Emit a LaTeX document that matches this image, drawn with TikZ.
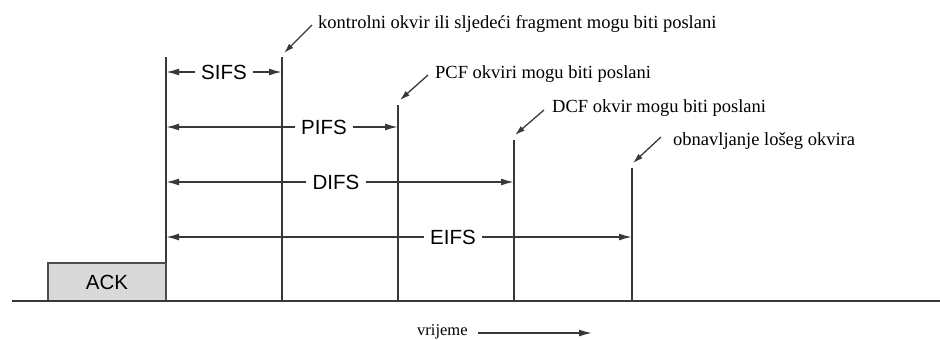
\documentclass[tikz,border=0pt]{standalone}
\usepackage{fontspec}
\setmainfont{Liberation Serif}
\newfontfamily\labelfont{Liberation Sans}
\usetikzlibrary{arrows.meta}

\begin{document}
\begin{tikzpicture}[x=1pt,y=-1pt,
    line/.style={draw=black!78,line width=1.7pt},
    span/.style={line,-{Latex[length=13pt,width=7pt]}},
    pointer/.style={draw=black!78,line width=1.3pt,-{Latex[length=10pt,width=6pt]}}]

      \useasboundingbox (0,0) rectangle (940,340);

      \node[draw=black!70,line width=1.5pt,fill=black!15,minimum width=118pt,
        minimum height=38pt,font=\labelfont\fontsize{20.5}{24}\selectfont] (ack) at (107,282) {ACK};

      % tops and feet of the time marks
      \coordinate (axl) at (12,301);
      \coordinate (axr) at (940,301);
      \coordinate (t0) at (166,57);
      \coordinate (t1) at (282,57);
      \coordinate (t2) at (398,105);
      \coordinate (t3) at (514,140);
      \coordinate (t4) at (632,168);

      \draw[line] (axl) -- (axr);
      \draw[line] (t0) -- (t0 |- ack.north);
      \foreach \t in {t1,t2,t3,t4}
        \draw[line] (\t) -- (\t |- axl);

      \begin{scope}[every node/.style={inner xsep=6pt,inner ysep=1pt,
          font=\labelfont\fontsize{20.5}{24}\selectfont}]
        \node (sifs) at (224,72)  {SIFS};
        \node (pifs) at (324,127) {PIFS};
        \node (difs) at (336,182) {DIFS};
        \node (eifs) at (453,237) {EIFS};
      \end{scope}

      \draw[span] (sifs.west) -- (sifs -| t0);
      \draw[span] (sifs.east) -- (sifs -| t1);
      \draw[span] (pifs.west) -- (pifs -| t0);
      \draw[span] (pifs.east) -- (pifs -| t2);
      \draw[span] (difs.west) -- (difs -| t0);
      \draw[span] (difs.east) -- (difs -| t3);
      \draw[span] (eifs.west) -- (eifs -| t0);
      \draw[span] (eifs.east) -- (eifs -| t4);

      \begin{scope}[every node/.style={anchor=base west,inner sep=0pt,
          font=\fontsize{18.5}{22}\selectfont}]
        \node (kontr) at (318,28)  {kontrolni okvir ili sljedeći fragment mogu biti poslani};
        \node (pcf)   at (435,78)  {PCF okviri mogu biti poslani};
        \node (dcf)   at (552,112) {DCF okvir mogu biti poslani};
        \node (obn)   at (673,145) {obnavljanje lošeg okvira};
      \end{scope}

      \coordinate (kontr-tail) at (312,25);
      \coordinate (pcf-tail) at (428,75);
      \coordinate (dcf-tail) at (544,110);
      \coordinate (obn-tail) at (661,137);

      \draw[pointer] (kontr-tail) -- ([shift={(2,-4)}]t1);
      \draw[pointer] (pcf-tail) -- ([shift={(2,-5)}]t2);
      \draw[pointer] (dcf-tail) -- ([shift={(1,-5)}]t3);
      \draw[pointer] (obn-tail) -- ([shift={(1,-5)}]t4);

      \node[anchor=base west,inner sep=0pt,font=\fontsize{16.5}{20}\selectfont] (time) at (417,335) {vrijeme};
      \coordinate (time-end) at (592,333);
      \draw[span,line width=1.5pt] ([xshift=10pt]time.east |- time-end) -- (time-end);

    \end{tikzpicture}
\end{document}
